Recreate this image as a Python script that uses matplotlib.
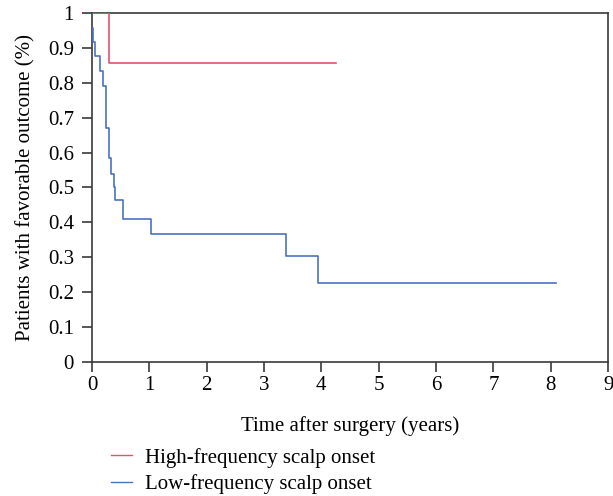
import matplotlib
matplotlib.use("Agg")
import matplotlib.pyplot as plt
from matplotlib.lines import Line2D

# Kaplan-Meier style step data
high_t = [0.0, 0.30, 4.26]
high_s = [1.0, 0.857, 0.857]

low_t = [0.0, 0.012, 0.058, 0.145, 0.19, 0.25, 0.30, 0.33, 0.38, 0.41, 0.55, 1.03, 3.38, 3.95, 8.1]
low_s = [0.958, 0.917, 0.877, 0.834, 0.79, 0.669, 0.584, 0.539, 0.50, 0.463, 0.409, 0.366, 0.305, 0.226, 0.226]

x_ticks = list(range(0, 10))
y_ticks = [0, 0.1, 0.2, 0.3, 0.4, 0.5, 0.6, 0.7, 0.8, 0.9, 1]
y_labels = ["0", "0.1", "0.2", "0.3", "0.4", "0.5", "0.6", "0.7", "0.8", "0.9", "1"]

red = "#e5506c"
blue = "#4a72c2"
dark = "#3a3a3a"

plt.rcParams['font.family'] = ['Liberation Serif', 'DejaVu Serif']

fig = plt.figure(figsize=(6.13, 4.96), dpi=100)
ax = fig.add_axes([0.150, 0.270, 0.842, 0.704])

ax.step(high_t, high_s, where="post", color=red, lw=1.2, zorder=3)
ax.step(low_t, low_s, where="post", color=blue, lw=1.2, zorder=3)

ax.set_xlim(0, 9)
ax.set_ylim(0, 1)
ax.set_xticks(x_ticks)
ax.set_yticks(y_ticks)
ax.set_yticklabels(y_labels)
ax.tick_params(direction="out", length=7, width=1.2, color=dark, labelsize=15, pad=3)
ax.tick_params(axis="y", pad=6)
for s in ax.spines.values():
    s.set_color(dark)
    s.set_linewidth(1.2)

ax.set_xlabel("Time after surgery (years)", fontsize=15, labelpad=15)
ax.set_ylabel("Patients with favorable outcome (%)", fontsize=15, labelpad=9)

handles = [Line2D([], [], color=red, lw=1.0), Line2D([], [], color=blue, lw=1.0)]
fig.legend(handles, ["High-frequency scalp onset", "Low-frequency scalp onset"],
           loc="upper left", bbox_to_anchor=(0.168, 0.114), frameon=False, fontsize=15,
           handlelength=1.0, handletextpad=0.6, labelspacing=0.3, borderaxespad=0)

fig.savefig("out.png", dpi=100)
